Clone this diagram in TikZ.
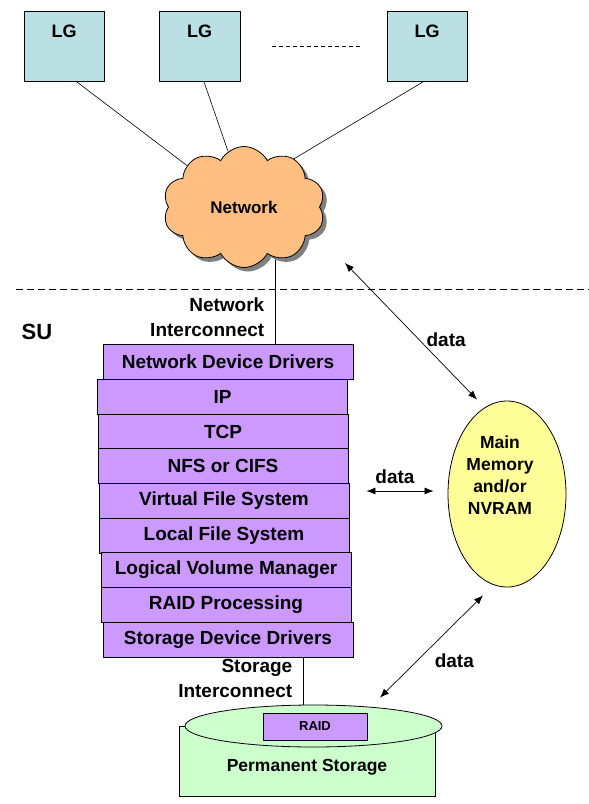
\documentclass[tikz,border=0pt]{standalone}
\usepackage{fontspec}
\setmainfont{Liberation Sans}
\usetikzlibrary{arrows.meta,shapes.symbols,shapes.geometric,shadows,calc,backgrounds}
\definecolor{lgblue}{RGB}{187,224,227}
\definecolor{netorange}{RGB}{255,191,128}
\definecolor{layerviolet}{RGB}{204,153,255}
\definecolor{memyellow}{RGB}{255,255,153}
\definecolor{diskgreen}{RGB}{204,255,204}
\begin{document}
\begin{tikzpicture}[x=1pt,y=-1pt,
  every node/.style={font=\fontsize{19}{25}\selectfont\bfseries},
  lgbox/.style={draw,fill=lgblue,minimum width=80pt,inner ysep=0pt,text height=26pt,text depth=44pt,font=\fontsize{18}{22}\selectfont\bfseries},
  layer/.style={draw,fill=layerviolet,minimum width=250pt,minimum height=35pt,inner sep=0pt},
  data/.style={{Latex[length=9pt,width=7pt]}-{Latex[length=9pt,width=7pt]},line width=.7pt},
  link/.style={line width=.6pt}]
\pgfsetlinewidth{.8pt}
\useasboundingbox (0,0) rectangle (589,804);
\node[lgbox] (lg1) at (64,46) {LG};
\node[lgbox,minimum width=81pt] (lg2) at (199.5,46) {LG};
\node[lgbox] (lg3) at (427,46) {LG};
\draw[link,dash pattern=on 4pt off 3pt] ($(lg2.east)+(32,0)$) -- ($(lg3.west)+(-25,0)$);
\node[cloud,cloud puffs=10,cloud puff arc=125,aspect=1.3,draw,fill=netorange,minimum width=162pt,minimum height=121pt,
  drop shadow={shadow xshift=4pt,shadow yshift=-4pt,fill=gray,opacity=1},font=\fontsize{17}{20}\selectfont\bfseries] (net) at (244,207) {Network};
\draw[link] (lg1.-71) -- (net.144);
\draw[link] (lg2.-83) -- (net.106);
\draw[link] (lg3.-95) -- (net.44);
\draw[link,dash pattern=on 7pt off 4pt] (16,289) -- (589,289);
\node[font=\fontsize{22}{26}\selectfont\bfseries] (su) at (37,332) {SU};
% protocol stack
\node[layer] (ndd) at (228,362) {Network Device Drivers};
\node[layer] (ip) at (222.5,396.5) {IP};
\node[layer] (tcp) at (223,431.5) {TCP};
\node[layer] (nfs) at (223,466) {NFS or CIFS};
\node[layer] (vfs) at (224,500.5) {Virtual File System};
\node[layer] (lfs) at (224,535.5) {Local File System};
\node[layer] (lvm) at (226,570) {Logical Volume Manager};
\node[layer] (raidp) at (226,604.5) {RAID Processing};
\node[layer] (sdd) at (228,639.5) {Storage Device Drivers};
\node[anchor=east,align=right] (netic) at (268,317) {Network\\Interconnect};
\node[anchor=east,align=right] (storic) at (296,678) {Storage\\Interconnect};
% storage
\node[draw,fill=diskgreen,minimum width=256pt,minimum height=70pt,inner sep=0pt] (perm) at (307.5,761) {};
\node[ellipse,draw,fill=diskgreen,minimum width=257pt,minimum height=42pt,inner sep=0pt] (disk) at (313.5,726) {};
\node[draw,fill=layerviolet,minimum width=104pt,minimum height=27pt,inner sep=0pt,font=\fontsize{13}{15}\selectfont\bfseries] (raid) at (315,726.5) {RAID};
\node[font=\fontsize{17.5}{21}\selectfont\bfseries] (permtxt) at (307,767) {Permanent Storage};
% memory
\node[ellipse,draw,fill=memyellow,minimum width=118pt,minimum height=186pt,inner sep=0pt] (mem) at (507,494) {};
\node[align=center,font=\fontsize{17.5}{21.8}\selectfont\bfseries] (memtxt) at (500,475) {Main\\Memory\\and/or\\NVRAM};
\begin{scope}[on background layer]
\draw[link] ([xshift=47pt]ndd.north) -- ([xshift=47pt]ndd.north |- net.center);
\draw[link] ([xshift=75pt]sdd.south) -- ([xshift=75pt]sdd.south |- disk.center);
\end{scope}
\draw[data] ($(net)+(101,56)$) -- ($(mem.north)+(-30,-1)$) node[pos=.56,right=4pt]{data};
\draw[data] ([xshift=17pt,yshift=9.5pt]vfs.east) -- ([xshift=-14pt,yshift=3pt]mem.west) node[midway,above=4pt,xshift=-5pt]{data};
\draw[data] ($(mem.south)+(-24,8)$) -- ($(disk.north)+(66.5,-7)$) node[pos=.64,right=14pt]{data};
\end{tikzpicture}
\end{document}
